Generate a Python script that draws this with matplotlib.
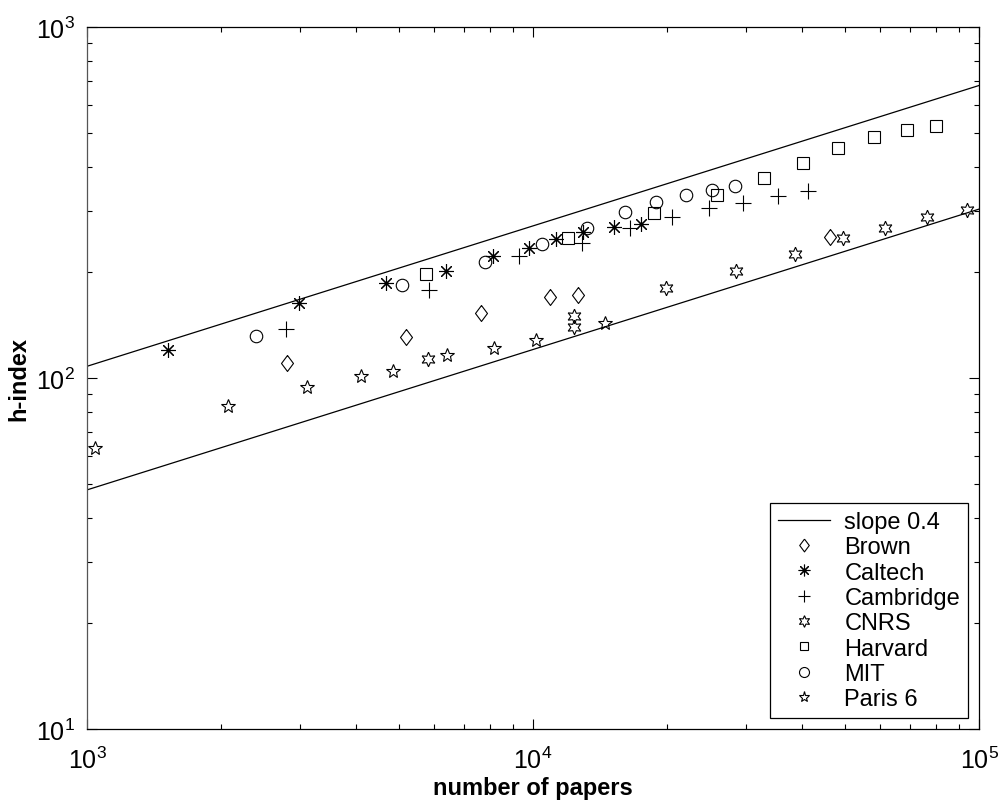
import numpy as np
import matplotlib
matplotlib.use("Agg")
import matplotlib.pyplot as plt
from matplotlib.ticker import NullFormatter, LogLocator

plt.rcParams['font.family'] = ['Liberation Sans', 'DejaVu Sans']
plt.rcParams['mathtext.fontset'] = 'custom'
plt.rcParams['mathtext.rm'] = 'Liberation Sans'
plt.rcParams['mathtext.it'] = 'Liberation Sans'

# number of papers / h-index per institution
brown_n = [2810, 5180, 7630, 10900, 12600, 46300]
brown_h = [110, 131, 153, 170, 172, 252]

caltech_n = [1520, 2980, 4670, 6380, 8150, 9790, 11260, 12970, 15190, 17500]
caltech_h = [120, 164, 186, 202, 222, 235, 249, 260, 270, 274]

cambridge_n = [2790, 5840, 9290, 12900, 16500, 20500, 24850, 29600, 35400, 41400]
cambridge_h = [138, 178, 222, 242, 268, 287, 305, 315, 329, 340]

cnrs_n = [5810, 12360, 12360, 19840, 28560, 38700, 49600, 61500, 76600, 93800]
cnrs_h = [113, 150, 140, 181, 202, 225, 250, 268, 288, 302]

harvard_n = [5760, 11980, 18670, 25900, 33000, 40200, 48300, 58200, 69100, 80000]
harvard_h = [198, 251, 295, 332, 371, 411, 451, 487, 509, 521]

mit_n = [2390, 5090, 7790, 10480, 13200, 16100, 18900, 22000, 25200, 28400]
mit_h = [132, 184, 214, 241, 268, 297, 318, 332, 343, 353]

paris6_n = [1040, 2070, 3110, 4110, 4850, 6400, 8190, 10150, 14500]
paris6_h = [63, 83, 94, 101, 105, 116, 122, 128, 143]

# reference lines h = c * (N/1000)^0.4
slope = 0.4
line_c = [108, 48]
line_n = np.array([1e3, 1e5])

diamond = [(0, 1), (0.75, 0), (0, -1), (-0.75, 0), (0, 1)]

fig = plt.figure(figsize=(9.98, 8.03), dpi=100)
ax = fig.add_axes([0.0872, 0.0909, 0.8938, 0.8742])

for i, c in enumerate(line_c):
    ax.plot(line_n, c * (line_n / 1e3) ** slope, color='black', lw=0.9,
            label='slope 0.4' if i == 0 else None)

kw = dict(linestyle='none', color='black', markerfacecolor='none', markeredgewidth=0.8)
ax.plot(brown_n, brown_h, marker=diamond, ms=11.5, label='Brown', **kw)
ax.plot(caltech_n, caltech_h, marker=(8, 2, 0), ms=10.5, label='Caltech', **kw)
ax.plot(cambridge_n, cambridge_h, marker='+', ms=11.5, label='Cambridge', **kw)
ax.plot(cnrs_n, cnrs_h, marker=(6, 1, 0), ms=10.5, label='CNRS', **kw)
ax.plot(harvard_n, harvard_h, marker='s', ms=8, label='Harvard', **kw)
ax.plot(mit_n, mit_h, marker='o', ms=9, label='MIT', **kw)
ax.plot(paris6_n, paris6_h, marker='*', ms=10, label='Paris 6', **kw)

ax.set_xscale('log')
ax.set_yscale('log')
ax.set_xlim(1e3, 1e5)
ax.set_ylim(1e1, 1e3)
ax.xaxis.set_minor_formatter(NullFormatter())
ax.yaxis.set_minor_formatter(NullFormatter())
ax.xaxis.set_minor_locator(LogLocator(subs=np.arange(2, 10)))
ax.yaxis.set_minor_locator(LogLocator(subs=np.arange(2, 10)))

ax.tick_params(which='both', direction='in', top=True, right=True, labelsize=18, width=0.8)
ax.tick_params(which='major', length=7)
ax.tick_params(axis='x', which='major', pad=13)
ax.tick_params(axis='y', which='major', pad=9)
ax.tick_params(which='minor', length=3.5)
for s in ax.spines.values():
    s.set_linewidth(0.9)
ax.spines['left'].set_color('#555555')

ax.set_xlabel('number of papers', fontsize=17, fontweight='bold', labelpad=2)
ax.set_ylabel('h-index', fontsize=17, fontweight='bold', labelpad=4)

leg = ax.legend(loc='lower right', fontsize=17, frameon=True, fancybox=False,
                edgecolor='black', framealpha=1, labelspacing=0.14,
                handlelength=2.2, handletextpad=0.6, borderpad=0.35,
                borderaxespad=0.45, markerscale=0.8)
leg.get_frame().set_linewidth(0.9)

fig.savefig('out.png', dpi=100)
